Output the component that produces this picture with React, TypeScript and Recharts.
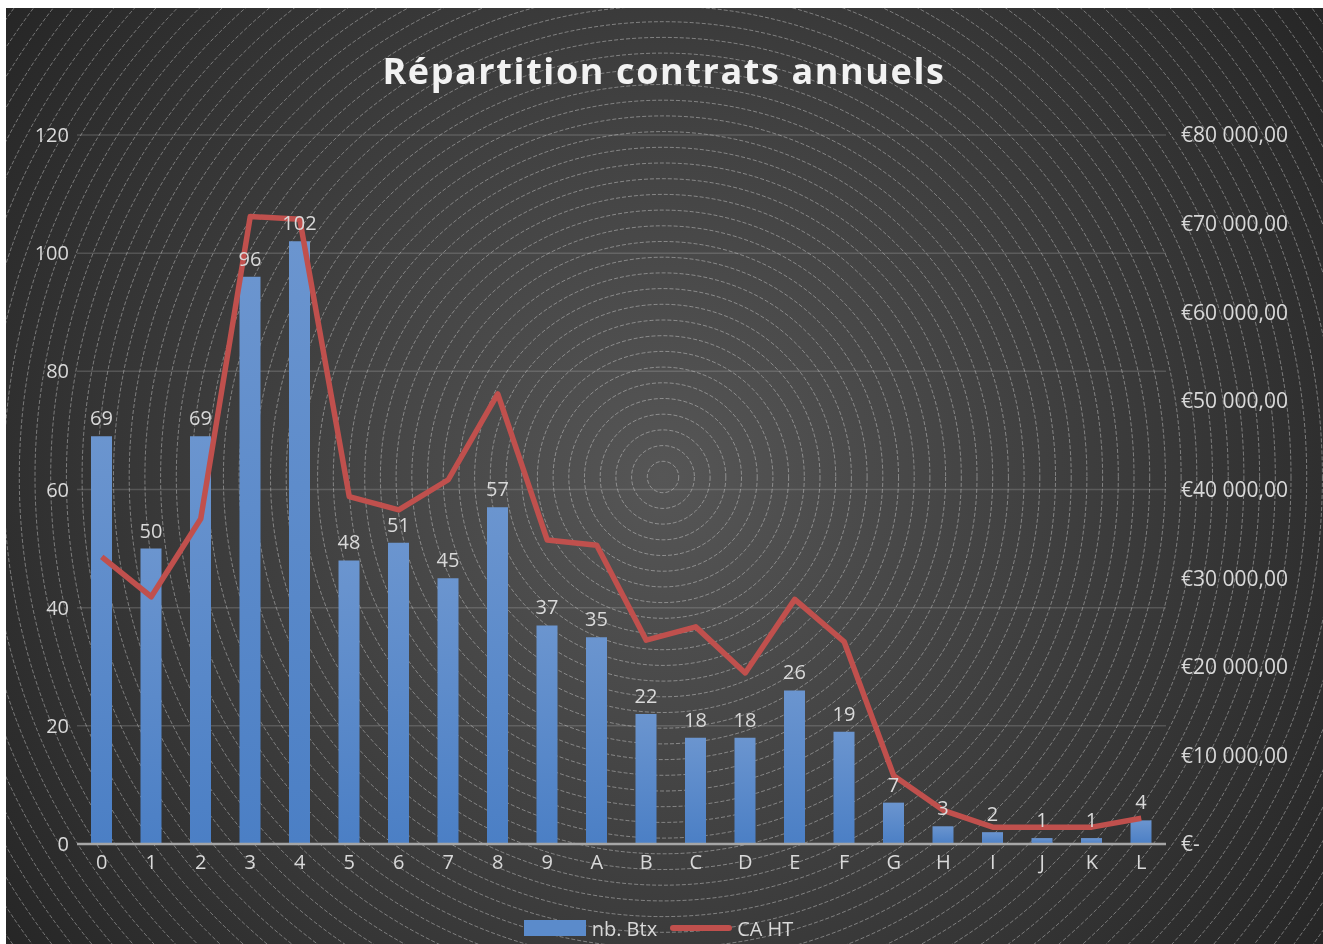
import React from 'react';
import {
  ComposedChart,
  Bar,
  Line,
  XAxis,
  YAxis,
  CartesianGrid,
  Legend,
  LabelList,
  Customized,
} from 'recharts';

const categories = ['0', '1', '2', '3', '4', '5', '6', '7', '8', '9', 'A', 'B', 'C', 'D', 'E', 'F', 'G', 'H', 'I', 'J', 'K', 'L'];
const nbBtx = [69, 50, 69, 96, 102, 48, 51, 45, 57, 37, 35, 22, 18, 18, 26, 19, 7, 3, 2, 1, 1, 4];
const caHT = [32400, 27900, 36700, 70800, 70500, 39200, 37700, 41100, 50800, 34300, 33700, 23000, 24500, 19300, 27600, 22800, 7700, 3800, 1900, 1900, 1900, 2900];
const leftTicks = [0, 20, 40, 60, 80, 100, 120];
const rightTicks = [0, 10000, 20000, 30000, 40000, 50000, 60000, 70000, 80000];
const seriesOrder = ['nb. Btx', 'CA HT'];

const data = categories.map((name, i) => ({ name, btx: nbBtx[i], ca: caHT[i] }));

const W = 1317;
const H = 936;
const FONT = '"Open Sans", "Noto Sans", sans-serif';
const TEXT = '#d9d9d9';

const formatEuro = (v: number) => {
  if (v === 0) return '€-';
  return '€' + v.toLocaleString('fr-FR').replace(/\s/g, ' ') + ',00';
};

// background rings, centred a bit below the middle
const ringCount = 54;
const ringCx = 657;
const ringCy = 469;

function Title() {
  return (
    <text
      x={658}
      y={76}
      textAnchor="middle"
      fill="#f2f2f2"
      fontFamily={FONT}
      fontWeight={700}
      fontSize={36}
      letterSpacing={1.6}
    >
      Répartition contrats annuels
    </text>
  );
}

function LegendContent(props: any) {
  const payload = [...(props.payload || [])].sort(
    (a: any, b: any) => seriesOrder.indexOf(a.value) - seriesOrder.indexOf(b.value)
  );
  return (
    <div style={{ display: 'flex', justifyContent: 'center', alignItems: 'center', height: 24, fontFamily: FONT, fontSize: 20, color: TEXT }}>
      {payload.map((entry: any) => (
        <div key={entry.value} style={{ display: 'flex', alignItems: 'center', marginRight: 12 }}>
          {entry.type === 'line' ? (
            <svg width={64} height={10} style={{ marginRight: 4 }}>
              <line x1={4} y1={5} x2={60} y2={5} stroke={entry.color} strokeWidth={6} strokeLinecap="round" />
            </svg>
          ) : (
            <div style={{ width: 62, height: 16, background: '#5b8bcb', marginRight: 6 }} />
          )}
          <span>{entry.value}</span>
        </div>
      ))}
    </div>
  );
}

export default function App() {
  return (
    <div
      style={{
        position: 'fixed',
        left: 6,
        top: 8,
        width: W,
        height: H,
        overflow: 'hidden',
        background: `radial-gradient(circle farthest-corner at ${ringCx}px ${ringCy}px, #565656 0%, #414141 45%, #262626 100%)`,
      }}
    >
      <svg width={W} height={H} style={{ position: 'absolute', left: 0, top: 0 }}>
        {Array.from({ length: ringCount }, (_, i) => (
          <circle
            key={i}
            cx={ringCx}
            cy={ringCy}
            r={15.7 * (i + 1)}
            fill="none"
            stroke="rgba(235,235,235,0.4)"
            strokeWidth={1}
            strokeDasharray="4 2"
          />
        ))}
      </svg>
      <div style={{ position: 'absolute', left: 0, top: 0 }}>
        <ComposedChart width={W} height={H} data={data} margin={{ top: 127, right: 27, bottom: 46, left: 11 }}>
          <defs>
            <linearGradient id="barFill" x1="0" y1="0" x2="0" y2="1">
              <stop offset="0%" stopColor="#6b95cf" />
              <stop offset="100%" stopColor="#4b7fc5" />
            </linearGradient>
          </defs>
          <Customized component={Title} />
          <CartesianGrid vertical={false} stroke="rgba(200,200,200,0.22)" strokeWidth={1.5} yAxisId="left" />
          <XAxis
            dataKey="name"
            height={30}
            tickLine={false}
            tickSize={0}
            tickMargin={11}
            axisLine={{ stroke: '#a6a6a6', strokeWidth: 2.5 }}
            tick={{ fill: TEXT, fontSize: 20, fontFamily: FONT }}
            interval={0}
          />
          <YAxis
            yAxisId="left"
            width={60}
            domain={[0, 120]}
            ticks={leftTicks}
            axisLine={false}
            tickLine={false}
            tickSize={0}
            tickMargin={8}
            tick={{ fill: TEXT, fontSize: 20, fontFamily: FONT }}
          />
          <YAxis
            yAxisId="right"
            orientation="right"
            width={130}
            domain={[0, 80000]}
            ticks={rightTicks}
            tickFormatter={formatEuro}
            axisLine={false}
            tickLine={false}
            tickSize={0}
            tickMargin={15}
            tick={{ fill: TEXT, fontSize: 21, fontFamily: FONT, textAnchor: 'start' }}
          />
          <Bar yAxisId="left" dataKey="btx" name="nb. Btx" fill="url(#barFill)" barSize={21} isAnimationActive={false}>
            <LabelList dataKey="btx" position="top" offset={11} fill={TEXT} fontSize={20} fontFamily={FONT} />
          </Bar>
          <Line
            yAxisId="right"
            dataKey="ca"
            name="CA HT"
            stroke="#c0504d"
            strokeWidth={5.5}
            strokeLinejoin="round"
            dot={false}
            activeDot={false}
            isAnimationActive={false}
          />
          <Legend verticalAlign="bottom" content={LegendContent} wrapperStyle={{ bottom: 4, left: 0, width: W }} />
        </ComposedChart>
      </div>
    </div>
  );
}
